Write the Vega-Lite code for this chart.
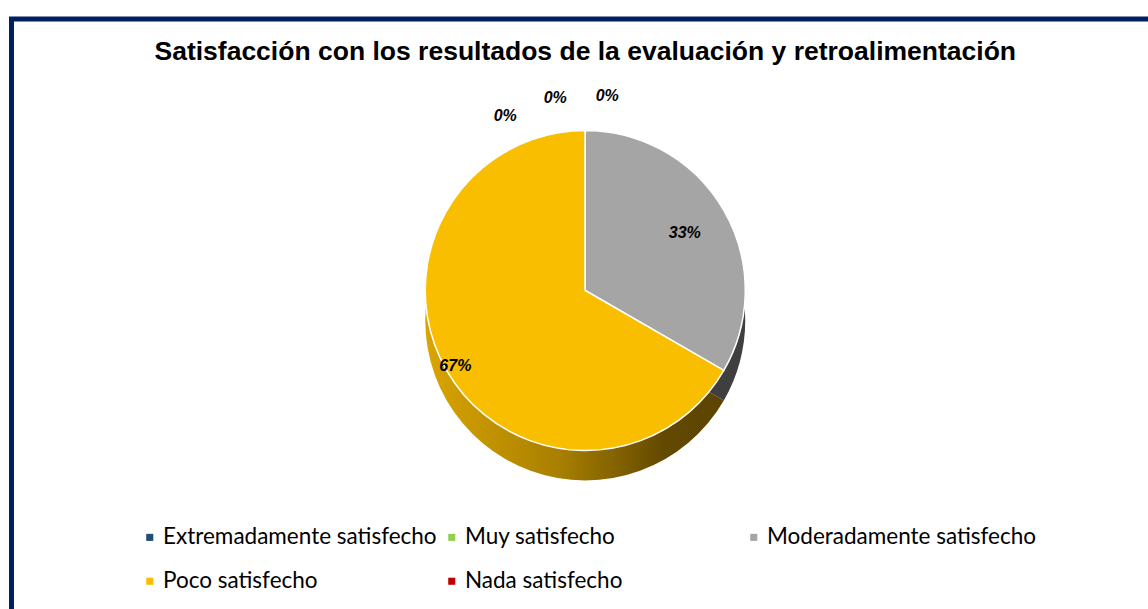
{
  "$schema": "https://vega.github.io/schema/vega-lite/v6.json",
  "width": 1148,
  "height": 609,
  "autosize": {"type": "fit", "contains": "padding"},
  "padding": {"left": 8.5, "top": 16, "right": -14, "bottom": -6},
  "background": "white",
  "config": {"view": {"stroke": null}},
  "title": {
    "text": "Satisfacción con los resultados de la evaluación y retroalimentación",
    "font": "Liberation Sans",
    "fontSize": 26.5,
    "fontWeight": "bold",
    "color": "#000000",
    "anchor": "middle",
    "frame": "group",
    "offset": -49
  },
  "data": {
    "values": [
      {"categoria": "Extremadamente satisfecho", "orden": 1, "porcentaje": 0},
      {"categoria": "Muy satisfecho", "orden": 2, "porcentaje": 0},
      {"categoria": "Moderadamente satisfecho", "orden": 3, "porcentaje": 0.3333},
      {"categoria": "Poco satisfecho", "orden": 4, "porcentaje": 0.6667},
      {"categoria": "Nada satisfecho", "orden": 5, "porcentaje": 0}
    ]
  },
  "transform": [
    {"stack": "porcentaje", "groupby": [], "sort": [{"field": "orden", "order": "ascending"}], "as": ["inicio", "fin"]}
  ],
  "layer": [
    {
      "transform": [{"filter": "datum.categoria === 'Poco satisfecho'"}],
      "mark": {"type": "rect", "fill": null, "fillOpacity": 0, "stroke": "#002060", "strokeWidth": 5},
      "encoding": {}
    },
    {
      "transform": [{"filter": "datum.categoria === 'Poco satisfecho'"}],
      "mark": {
        "type": "arc", "outerRadius": 160, "yOffset": 5,
        "fill": {"gradient": "linear", "x1": 0, "x2": 1, "y1": 0, "y2": 0,
          "stops": [{"offset": 0, "color": "#DAA500"}, {"offset": 0.45, "color": "#A87F00"}, {"offset": 0.8, "color": "#634900"}, {"offset": 1, "color": "#5C4400"}]}
      },
      "encoding": {
        "theta": {"field": "inicio", "type": "quantitative", "scale": {"domain": [0, 1]}},
        "theta2": {"field": "fin"}
      }
    },
    {
      "transform": [{"filter": "datum.categoria === 'Moderadamente satisfecho'"}],
      "mark": {"type": "arc", "outerRadius": 160, "yOffset": 5, "fill": "#3F3F3F"},
      "encoding": {
        "theta": {"field": "inicio", "type": "quantitative", "scale": {"domain": [0, 1]}},
        "theta2": {"field": "fin"}
      }
    },
    {
      "mark": {"type": "arc", "outerRadius": 160, "yOffset": -25, "stroke": "#FFFFFF", "strokeWidth": 1.5},
      "encoding": {
        "theta": {"field": "inicio", "type": "quantitative", "scale": {"domain": [0, 1]}},
        "theta2": {"field": "fin"},
        "color": {
          "field": "categoria", "type": "nominal",
          "scale": {
            "domain": ["Extremadamente satisfecho", "Muy satisfecho", "Moderadamente satisfecho", "Poco satisfecho", "Nada satisfecho"],
            "range": ["#1F4E79", "#92D050", "#A5A5A5", "#F9BE00", "#C00000"]
          },
          "legend": {
            "title": null,
            "orient": "none",
            "legendX": 127,
            "legendY": 507,
            "direction": "horizontal",
            "columns": 3,
            "gridAlign": "all",
            "columnPadding": 3,
            "rowPadding": 21,
            "symbolType": "square",
            "symbolSize": 50,
            "symbolStrokeWidth": 0,
            "labelFont": "Lato",
            "labelFontSize": 22.5,
            "labelColor": "#000000",
            "labelOffset": 2,
            "labelLimit": 400
          }
        }
      }
    },
    {
      "transform": [{"filter": "datum.categoria === 'Extremadamente satisfecho'"}],
      "mark": {"type": "text", "radius": 175, "yOffset": -25, "dx": -80, "dy": 0, "font": "Liberation Sans", "fontSize": 16, "fontWeight": "bold", "fontStyle": "italic", "color": "#000000"},
      "encoding": {
        "theta": {"field": "inicio", "type": "quantitative", "scale": {"domain": [0, 1]}},
        "text": {"field": "porcentaje", "type": "quantitative", "format": ".0%"}
      }
    },
    {
      "transform": [{"filter": "datum.categoria === 'Muy satisfecho'"}],
      "mark": {"type": "text", "radius": 175, "yOffset": -25, "dx": -30, "dy": -18, "font": "Liberation Sans", "fontSize": 16, "fontWeight": "bold", "fontStyle": "italic", "color": "#000000"},
      "encoding": {
        "theta": {"field": "inicio", "type": "quantitative", "scale": {"domain": [0, 1]}},
        "text": {"field": "porcentaje", "type": "quantitative", "format": ".0%"}
      }
    },
    {
      "transform": [{"filter": "datum.categoria === 'Nada satisfecho'"}],
      "mark": {"type": "text", "radius": 175, "yOffset": -25, "dx": 22, "dy": -20, "font": "Liberation Sans", "fontSize": 16, "fontWeight": "bold", "fontStyle": "italic", "color": "#000000"},
      "encoding": {
        "theta": {"field": "fin", "type": "quantitative", "scale": {"domain": [0, 1]}},
        "text": {"field": "porcentaje", "type": "quantitative", "format": ".0%"}
      }
    },
    {
      "mark": {"type": "text", "radius": 115, "yOffset": -25, "font": "Liberation Sans", "fontSize": 16, "fontWeight": "bold", "fontStyle": "italic", "color": "#000000"},
      "encoding": {
        "theta": {"field": "porcentaje", "type": "quantitative", "stack": true, "scale": {"domain": [0, 1]}},
        "order": {"field": "orden", "type": "quantitative"},
        "text": {"condition": {"test": "datum.categoria === 'Moderadamente satisfecho'", "field": "porcentaje", "format": ".0%"}, "value": ""}
      }
    },
    {
      "mark": {"type": "text", "radius": 150, "yOffset": -25, "font": "Liberation Sans", "fontSize": 16, "fontWeight": "bold", "fontStyle": "italic", "color": "#000000"},
      "encoding": {
        "theta": {"field": "porcentaje", "type": "quantitative", "stack": true, "scale": {"domain": [0, 1]}},
        "order": {"field": "orden", "type": "quantitative"},
        "text": {"condition": {"test": "datum.categoria === 'Poco satisfecho'", "field": "porcentaje", "format": ".0%"}, "value": ""}
      }
    }
  ]
}
